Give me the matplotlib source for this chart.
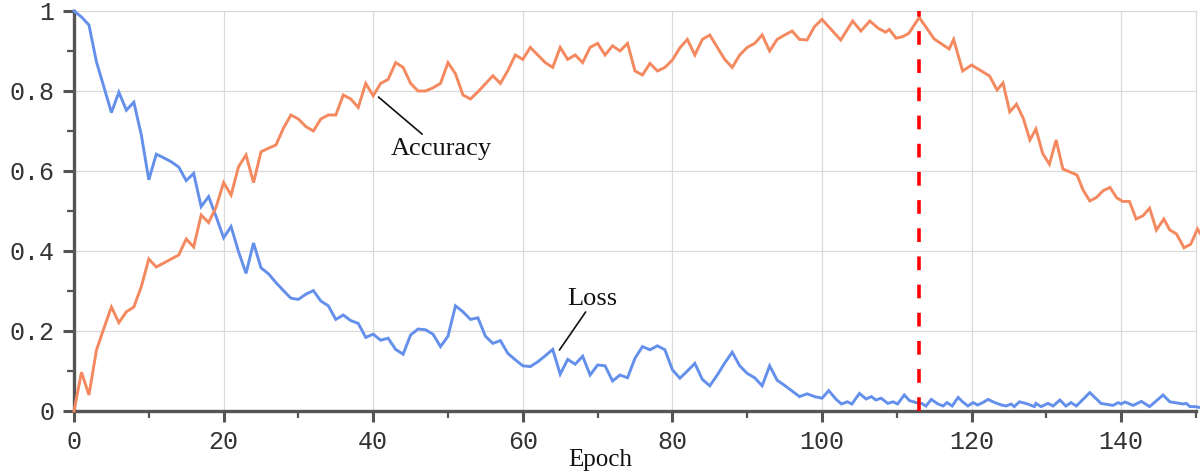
import numpy as np
import matplotlib
matplotlib.use("Agg")
import matplotlib.pyplot as plt
from matplotlib.ticker import MultipleLocator, FuncFormatter

# Training curves: one sample per epoch up to epoch 100, irregular logging afterwards
loss_head = [1.0, 0.985, 0.965, 0.873, 0.81, 0.746, 0.797, 0.752, 0.772, 0.69,
             0.578, 0.642, 0.633, 0.623, 0.61, 0.576, 0.594, 0.511, 0.536, 0.486,
             0.433, 0.461, 0.398, 0.344, 0.42, 0.358, 0.343, 0.321, 0.301, 0.282,
             0.279, 0.292, 0.301, 0.275, 0.263, 0.229, 0.24, 0.226, 0.219, 0.184,
             0.192, 0.177, 0.182, 0.154, 0.142, 0.19, 0.205, 0.203, 0.192, 0.161,
             0.187, 0.263, 0.248, 0.229, 0.233, 0.187, 0.169, 0.176, 0.144, 0.128,
             0.113, 0.111, 0.123, 0.138, 0.154, 0.092, 0.129, 0.117, 0.137, 0.09,
             0.115, 0.113, 0.075, 0.09, 0.083, 0.132, 0.161, 0.153, 0.163, 0.153,
             0.103, 0.082, 0.1, 0.119, 0.079, 0.063, 0.09, 0.12, 0.147, 0.113,
             0.094, 0.083, 0.063, 0.113, 0.077, 0.064, 0.05, 0.036, 0.043, 0.036,
             0.032]
loss_tail_epochs = [100.9, 101.9, 102.6, 103.4, 104.0, 105.0, 105.9, 106.6, 107.2, 107.9,
                    108.8, 109.5, 110.1, 111.0, 111.7, 112.6, 113.3, 113.9, 114.6, 115.5,
                    116.2, 116.7, 117.4, 118.2, 118.8, 119.5, 120.2, 120.8, 121.5, 122.2,
                    123.1, 124.0, 124.6, 125.3, 125.7, 126.4, 127.5, 128.4, 128.6, 129.3,
                    130.2, 130.9, 131.8, 132.6, 133.3, 134.0, 135.8, 137.3, 138.9, 139.6,
                    140.0, 140.5, 141.6, 142.7, 143.8, 145.6, 146.5, 148.3, 148.7, 149.2,
                    149.8, 150.5]
loss_tail = [0.051, 0.029, 0.0175, 0.023, 0.0175, 0.044, 0.03, 0.036, 0.0275, 0.032,
             0.019, 0.023, 0.0175, 0.04, 0.026, 0.021, 0.019, 0.0125, 0.029, 0.0175,
             0.0125, 0.021, 0.0125, 0.034, 0.023, 0.0125, 0.021, 0.015, 0.021, 0.029,
             0.021, 0.015, 0.0125, 0.0175, 0.011, 0.023, 0.0175, 0.011, 0.019, 0.011,
             0.019, 0.0125, 0.0275, 0.0125, 0.021, 0.0125, 0.046, 0.019, 0.014, 0.021,
             0.0175, 0.0225, 0.014, 0.024, 0.011, 0.04, 0.023, 0.0175, 0.019, 0.011,
             0.011, 0.009]

acc_head = [0.0, 0.097, 0.04, 0.152, 0.207, 0.26, 0.221, 0.248, 0.26, 0.311,
            0.38, 0.36, 0.37, 0.38, 0.39, 0.43, 0.41, 0.49, 0.471, 0.51,
            0.571, 0.54, 0.611, 0.64, 0.571, 0.648, 0.657, 0.665, 0.707, 0.74,
            0.73, 0.711, 0.70, 0.73, 0.74, 0.74, 0.79, 0.78, 0.759, 0.819,
            0.788, 0.819, 0.829, 0.871, 0.859, 0.819, 0.80, 0.80, 0.808, 0.819,
            0.871, 0.843, 0.79, 0.78, 0.798, 0.818, 0.838, 0.819, 0.851, 0.89,
            0.879, 0.909, 0.89, 0.871, 0.859, 0.909, 0.879, 0.89, 0.871, 0.909,
            0.919, 0.89, 0.913, 0.90, 0.919, 0.85, 0.84, 0.869, 0.85, 0.859,
            0.8775, 0.908, 0.929, 0.89, 0.929, 0.94, 0.909, 0.879, 0.859, 0.89,
            0.909, 0.919, 0.94, 0.90, 0.929, 0.94, 0.95, 0.929, 0.9275, 0.961,
            0.979]
acc_tail_epochs = [102.5, 104.1, 105.2, 106.4, 107.5, 108.5, 109.0, 109.9, 110.8, 111.6,
                   113.0, 115.0, 117.0, 117.6, 118.8, 120.0, 122.4, 123.4, 124.2, 125.1,
                   126.0, 126.9, 127.8, 128.6, 129.5, 130.4, 131.3, 132.2, 134.1, 134.9,
                   135.8, 136.7, 137.6, 138.5, 139.4, 140.2, 141.1, 142.0, 142.9, 143.8,
                   144.7, 145.7, 146.5, 147.4, 148.4, 149.3, 150.2, 150.7]
acc_tail = [0.9275, 0.975, 0.95, 0.975, 0.957, 0.947, 0.954, 0.932, 0.936, 0.944,
            0.984, 0.93, 0.905, 0.929, 0.85, 0.865, 0.8375, 0.8025, 0.82, 0.748,
            0.767, 0.732, 0.6775, 0.705, 0.644, 0.617, 0.6775, 0.605, 0.59, 0.5525,
            0.525, 0.534, 0.551, 0.559, 0.533, 0.524, 0.524, 0.48, 0.488, 0.507,
            0.4525, 0.48, 0.4525, 0.4425, 0.408, 0.417, 0.455, 0.44]

best_epoch = 113

loss_epochs = np.concatenate([np.arange(len(loss_head)), loss_tail_epochs])
loss_values = np.concatenate([loss_head, loss_tail])
acc_epochs = np.concatenate([np.arange(len(acc_head)), acc_tail_epochs])
acc_values = np.concatenate([acc_head, acc_tail])

BLUE = "#6490EC"
ORANGE = "#F4895F"
AXIS = "#555555"
GRID = "#dadada"
serif = ["Liberation Serif", "DejaVu Serif"]
mono = ["Liberation Mono", "DejaVu Sans Mono"]

fig = plt.figure(figsize=(12, 4.74), dpi=100)
ax = fig.add_axes([74 / 1200, 63 / 474, 1122 / 1200, 400 / 474])

ax.plot(loss_epochs, loss_values, color=BLUE, lw=2.1, clip_on=False, zorder=3,
        solid_joinstyle="miter")
ax.plot(acc_epochs, acc_values, color=ORANGE, lw=2.1, clip_on=False, zorder=4,
        solid_joinstyle="miter")
ax.axvline(best_epoch, color="#ff0000", lw=2.6, ls=(0, (3.8, 4.0)), zorder=5)

ax.set_xlim(0, 150)
ax.set_ylim(0, 1)

ax.xaxis.set_major_locator(MultipleLocator(20))
ax.xaxis.set_minor_locator(MultipleLocator(10))
ax.yaxis.set_major_locator(MultipleLocator(0.2))
ax.yaxis.set_minor_locator(MultipleLocator(0.1))
ax.yaxis.set_major_formatter(FuncFormatter(lambda v, _: f"{v:g}"))
ax.xaxis.set_major_formatter(FuncFormatter(lambda v, _: f"{v:g}"))

ax.grid(which="major", color=GRID, lw=0.9, zorder=0)
ax.axvline(150, color=GRID, lw=0.9, zorder=0, clip_on=False)
ax.set_axisbelow(True)

for side in ("top", "right"):
    ax.spines[side].set_visible(False)
for side in ("left", "bottom"):
    ax.spines[side].set_color(AXIS)
    ax.spines[side].set_linewidth(2.4)
    ax.spines[side].set_zorder(2)

ax.tick_params(which="major", direction="out", length=8, width=2.2, color=AXIS,
               labelsize=18, labelcolor="#333333", pad=6)
ax.tick_params(which="minor", direction="out", length=5, width=1.6, color=AXIS)
for lab in ax.get_xticklabels() + ax.get_yticklabels():
    lab.set_family(mono)

ax.set_xlabel("Epoch", fontsize=18, family=serif, color="#111111")
ax.xaxis.set_label_coords(0.469, -0.096)

# Curve labels with leader lines
ax.annotate("", xy=(40.7, 0.785), xytext=(46.55, 0.692),
            arrowprops=dict(arrowstyle="-", lw=1.2, color="#111111",
                            shrinkA=0, shrinkB=0))
ax.text(49.1, 0.64, "Accuracy", fontsize=19, family=serif, ha="center",
        va="baseline", color="#111111")
ax.annotate("", xy=(64.9, 0.1525), xytext=(68.4, 0.2475),
            arrowprops=dict(arrowstyle="-", lw=1.2, color="#111111",
                            shrinkA=0, shrinkB=0))
ax.text(69.3, 0.265, "Loss", fontsize=19, family=serif, ha="center",
        va="baseline", color="#111111")

fig.savefig("out.png", dpi=100, facecolor="white")
